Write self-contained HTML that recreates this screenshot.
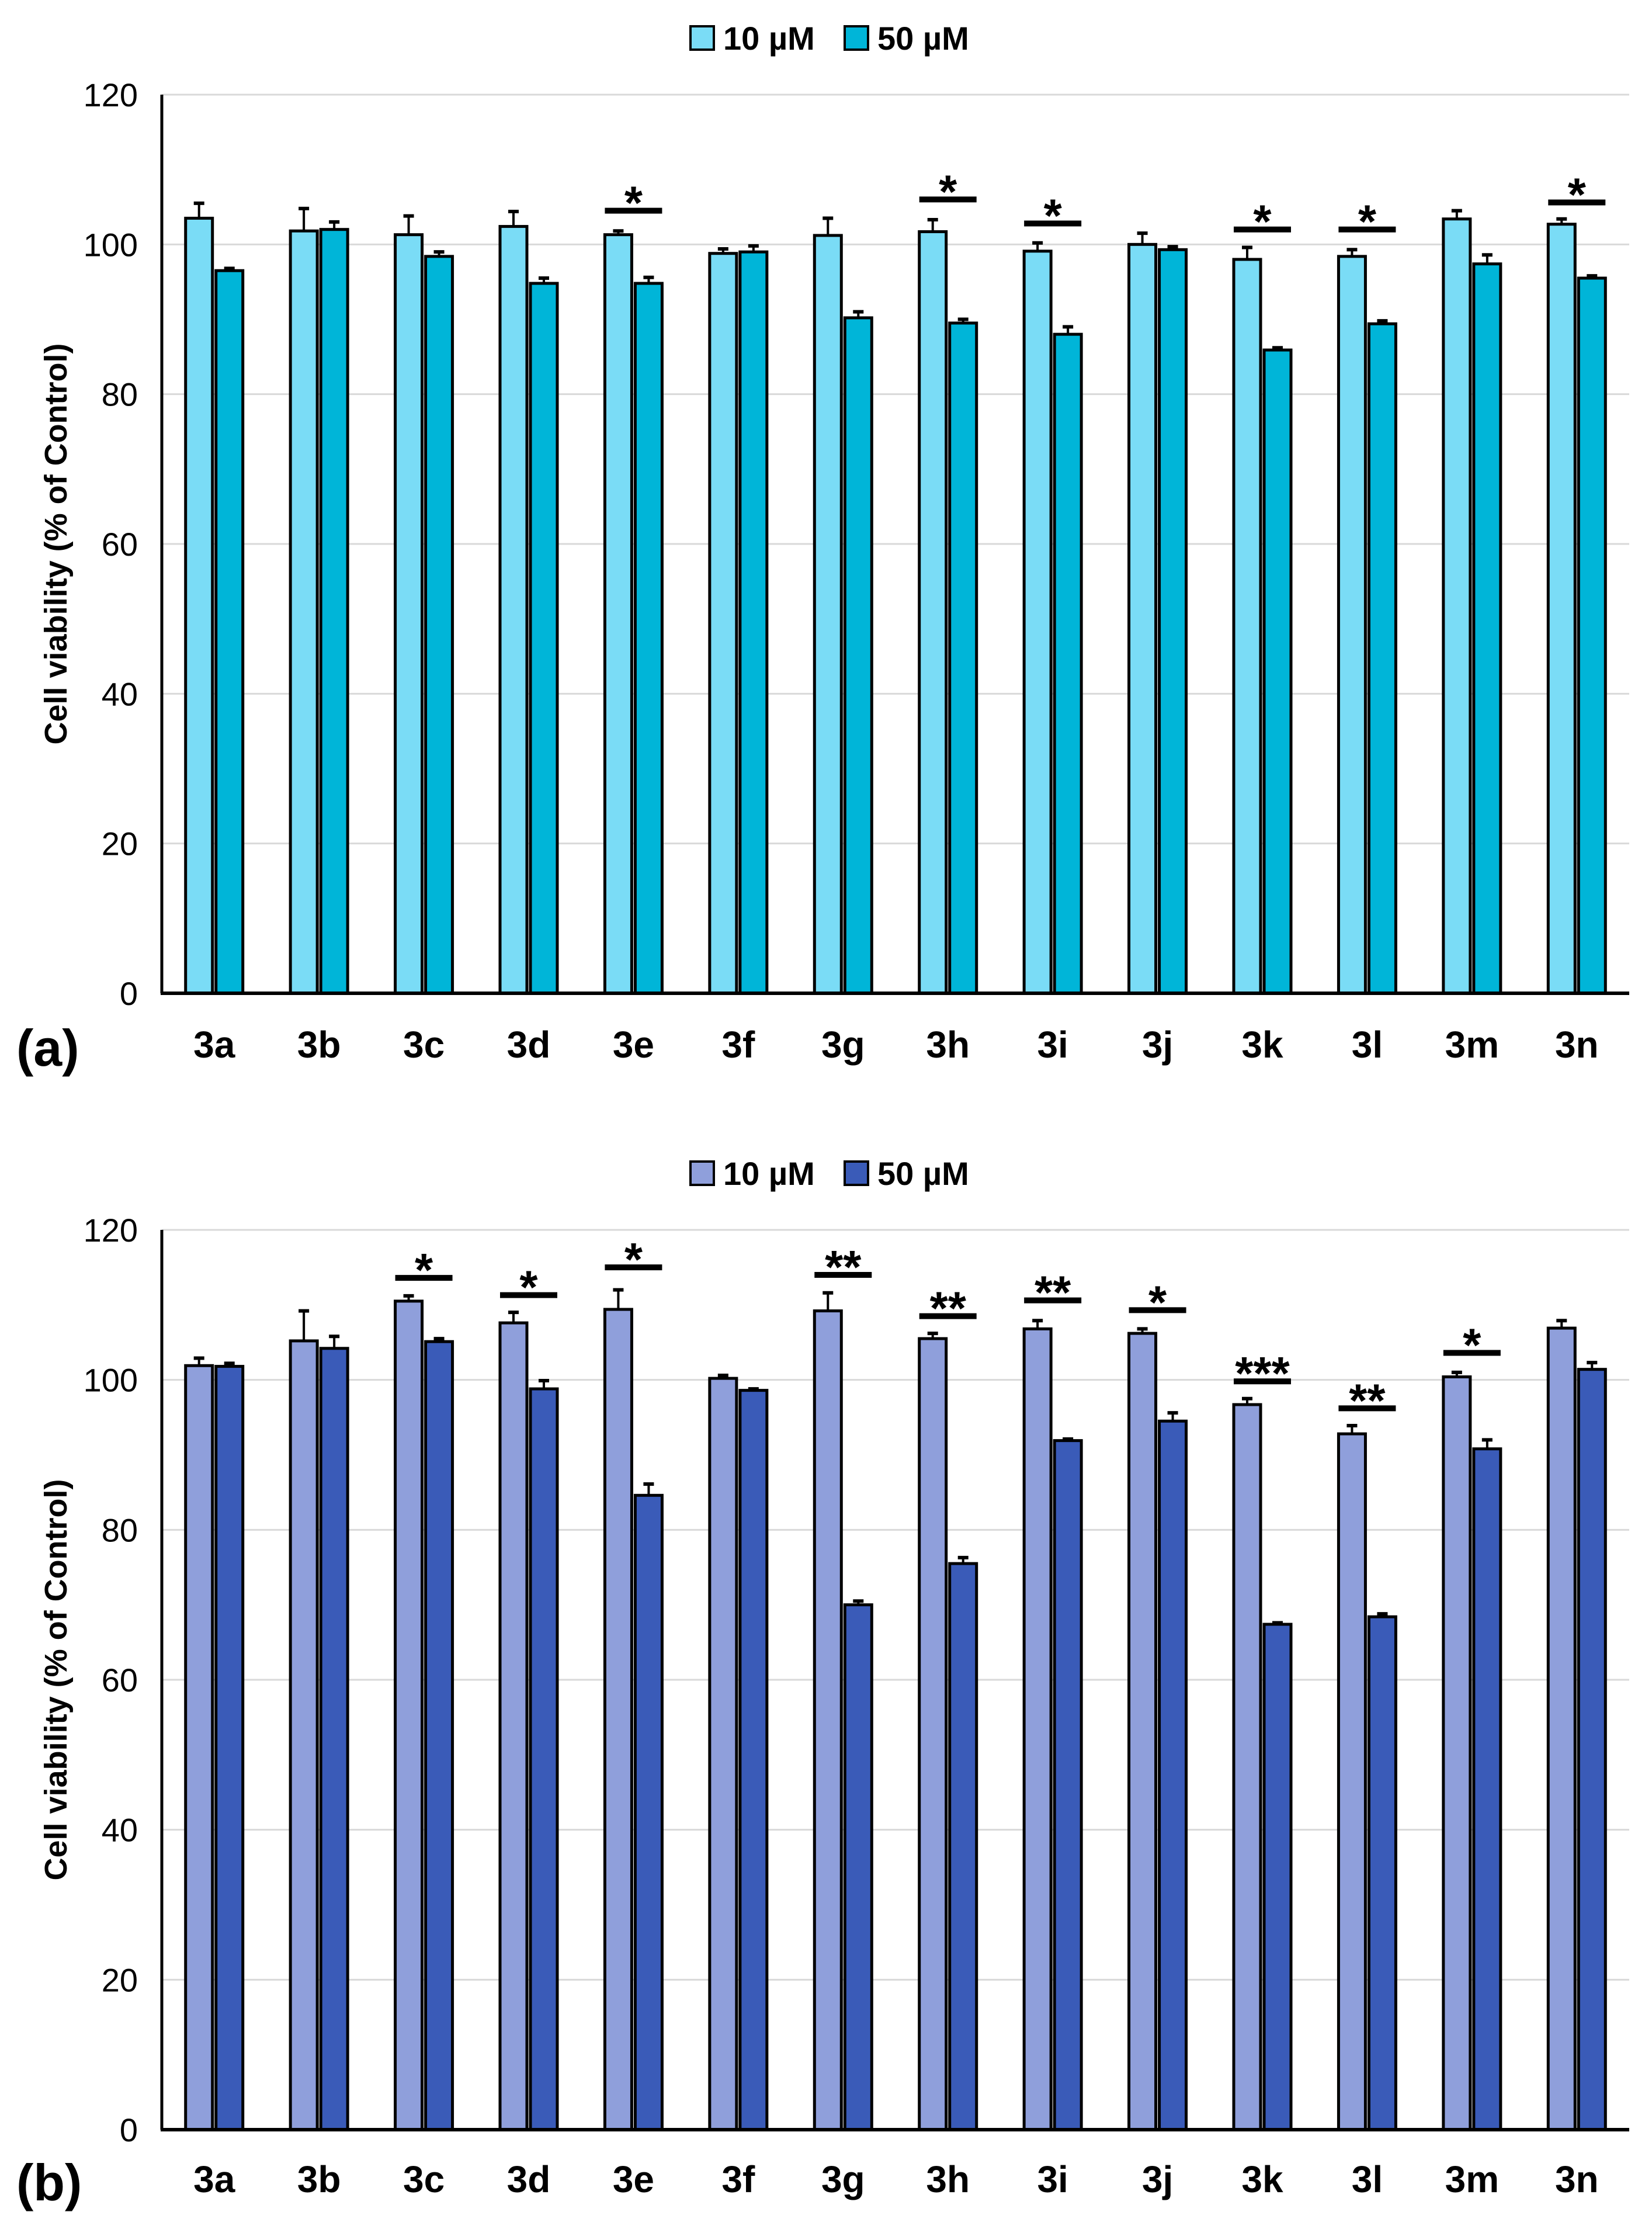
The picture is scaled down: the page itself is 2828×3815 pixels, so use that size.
<!DOCTYPE html>
<html><head><meta charset="utf-8"><style>
html,body{margin:0;padding:0;background:#fff;}
svg{display:block;font-family:"Liberation Sans",Arial,sans-serif;}
</style></head><body>
<svg id="fig" width="2828" height="3815" viewBox="0 0 2828 3815" xmlns="http://www.w3.org/2000/svg"></svg>
<script>
const categories = ["3a","3b","3c","3d","3e","3f","3g","3h","3i","3j","3k","3l","3m","3n"];
const yTicks = [0,20,40,60,80,100,120];
const seriesNames = ["10 µM","50 µM"];
// Panel a
const a10 = [103.5,101.8,101.3,102.4,101.3,98.8,101.2,101.7,99.1,100.0,98.0,98.4,103.4,102.7];
const a10err = [2.0,3.0,2.5,2.0,0.5,0.6,2.3,1.6,1.1,1.5,1.6,0.9,1.1,0.7];
const a50 = [96.5,102.0,98.4,94.8,94.8,99.0,90.2,89.5,88.0,99.3,85.9,89.4,97.4,95.5];
const a50err = [0.3,1.0,0.6,0.7,0.8,0.8,0.8,0.5,1.0,0.4,0.3,0.4,1.2,0.3];
const aSig = ["","","","","*","","","*","*","","*","*","","*"];
const aSigLevel = [0,0,0,0,104.5,0,0,106,102.8,0,102,102,0,105.6];
// Panel b
const b10 = [101.9,105.2,110.5,107.6,109.4,100.2,109.2,105.5,106.8,106.2,96.7,92.8,100.4,106.9];
const b10err = [1.0,4.0,0.7,1.4,2.6,0.4,2.4,0.7,1.1,0.6,0.8,1.1,0.6,1.0];
const b50 = [101.8,104.2,105.1,98.8,84.6,98.6,70.0,75.5,91.9,94.5,67.4,68.4,90.8,101.4];
const b50err = [0.4,1.6,0.4,1.1,1.5,0.2,0.5,0.8,0.2,1.1,0.2,0.4,1.2,0.9];
const bSig = ["","","*","*","*","","**","**","**","*","***","**","*",""];
const bSigLevel = [0,0,113.6,111.3,115,0,114,108.5,110.6,109.3,99.8,96.2,103.6,0];

const NS="http://www.w3.org/2000/svg";
const svg=document.getElementById('fig');
function mk(tag,attrs,parent){const e=document.createElementNS(NS,tag);for(const k in attrs)e.setAttribute(k,attrs[k]);(parent||svg).appendChild(e);return e;}

function panel(cfg){
  const g=mk('g',{});
  
  
  const x0=277,x1=2789,yTop=cfg.yTop,yBot=cfg.yBot;
  const y=v=>yBot-(v/120)*(yBot-yTop);
  const gw=(x1-x0)/categories.length;
  const cx=i=>x0+gw*(i+0.5);
  yTicks.forEach(t=>{
    if(t>0){const l=mk('line',{x1:x0,x2:x1,y1:y(t),y2:y(t),stroke:'#d9d9d9','stroke-width':3},g);
      }
    const tx=mk('text',{x:236,y:y(t)+20,'text-anchor':'end','font-size':56,fill:'#000'},g);
    
    tx.textContent=t;
  });
  const bw=46;
  const series=[[cfg.s10,cfg.e10,cfg.c1,-bw-3],[cfg.s50,cfg.e50,cfg.c2,3]];
  categories.forEach((c,i)=>{
    series.forEach((s,k)=>{
      const v=s[0][i],e=s[1][i],bx=cx(i)+s[3];
      const r=mk('rect',{x:bx,y:y(v),width:bw,height:yBot-y(v),fill:s[2],stroke:'#000','stroke-width':5},g);
      
      
      const ex=bx+bw/2;
      const el=mk('line',{x1:ex,x2:ex,y1:y(v),y2:y(v+e),stroke:'#000','stroke-width':4},g);
      
      const cap=mk('line',{x1:ex-9,x2:ex+9,y1:y(v+e),y2:y(v+e),stroke:'#000','stroke-width':6},g);
      
    });
    if(cfg.sig[i]){
      const ly=y(cfg.lvl[i]);
      const sl=mk('line',{x1:cx(i)-bw-3,x2:cx(i)+bw+3,y1:ly,y2:ly,stroke:'#000','stroke-width':10},g);
      
      const st=mk('text',{x:cx(i),y:ly+14,'text-anchor':'middle','font-size':80,'font-weight':'bold',fill:'#000'},g);
      
      st.textContent=cfg.sig[i];
    }
    const lab=mk('text',{x:cx(i),y:cfg.labY,'text-anchor':'middle','font-size':64,'font-weight':'bold',fill:'#000'},g);
    
    lab.textContent=c;
  });
  const ya=mk('line',{x1:x0,x2:x0,y1:yTop,y2:yBot,stroke:'#000','stroke-width':5},g);
  
  const xa=mk('line',{x1:x0-2,x2:x1,y1:yBot,y2:yBot,stroke:'#000','stroke-width':6},g);
  
  const tc=(yTop+yBot)/2;
  const yt=mk('text',{x:0,y:0,transform:'translate(114,'+tc+') rotate(-90)','text-anchor':'middle','font-size':54,'font-weight':'bold',fill:'#000'},g);
  
  yt.textContent='Cell viability (% of Control)';
  const pl=mk('text',{x:28,y:cfg.labY+14,'font-size':88,'font-weight':'bold',fill:'#000'},g);
  
  pl.textContent=cfg.label;
  const lx=[1182,1446];
  seriesNames.forEach((n,k)=>{
    const sq=mk('rect',{x:lx[k],y:cfg.legY-20,width:40,height:40,fill:k?cfg.c2:cfg.c1,stroke:'#000','stroke-width':4},g);
    
    const t=mk('text',{x:lx[k]+56,y:cfg.legY+20,'font-size':56,'font-weight':'bold',fill:'#000'},g);
    
    t.textContent=n;
  });
}
panel({name:'panel-a',yTop:162,yBot:1700,labY:1810,legY:65,label:'(a)',s10:a10,e10:a10err,s50:a50,e50:a50err,sig:aSig,lvl:aSigLevel,c1:'#7adcf6',c2:'#00b5d8'});
panel({name:'panel-b',yTop:2105,yBot:3645,labY:3752,legY:2008,label:'(b)',s10:b10,e10:b10err,s50:b50,e50:b50err,sig:bSig,lvl:bSigLevel,c1:'#8f9fdb',c2:'#3a5bb8'});
</script>
</body></html>
